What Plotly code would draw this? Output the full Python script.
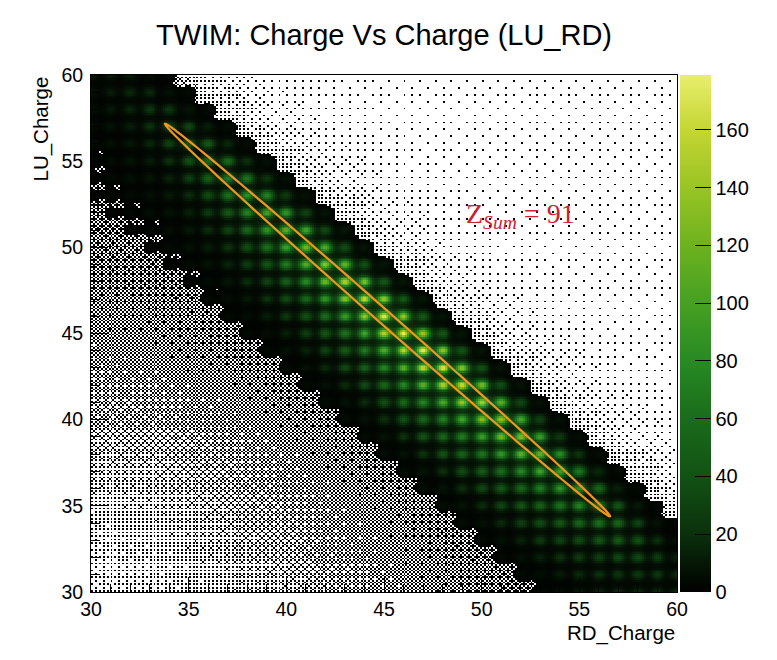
import numpy as np
import plotly.graph_objects as go

# ---------------- text ----------------
title_text = "TWIM: Charge Vs Charge (LU_RD)"
x_title = "RD_Charge"
y_title = "LU_Charge"
label_text = "Z<sub><i>Sum</i></sub> = 91"

# ---------------- axes / bins ----------------
axis_min, axis_max = 30, 60
bin_width = 0.1
major_ticks = [30, 35, 40, 45, 50, 55, 60]
colorbar_ticks = [0, 20, 40, 60, 80, 100, 120, 140, 160]
z_max = 179

# ---------------- peak counts ----------------
# RD_Charge columns 30 .. 60, one row per Z_sum = RD + LU diagonal
rd_charge = list(range(30, 61))
peaks_z94 = [0, 0, 0, 0, 2, 3, 3, 4, 4, 5, 5, 6, 6, 7, 7, 7, 7, 7, 7, 7, 6, 6, 6, 5, 5, 4, 4, 3, 3, 2, 2]
peaks_z93 = [0, 0, 0, 4, 5, 7, 10, 13, 16, 19, 22, 25, 28, 31, 34, 36, 38, 38, 37, 35, 33, 31, 28, 25, 21, 18, 14, 11, 8, 6, 4]
peaks_z92 = [0, 0, 10, 14, 20, 28, 38, 48, 58, 68, 78, 88, 98, 108, 118, 126, 130, 130, 126, 120, 112, 104, 95, 84, 72, 60, 48, 36, 26, 18, 12]
peaks_z91 = [0, 10, 14, 20, 28, 38, 50, 62, 75, 88, 100, 112, 124, 136, 148, 158, 165, 162, 155, 146, 136, 126, 115, 102, 88, 74, 60, 46, 34, 24, 16]
peaks_z90 = [8, 10, 13, 18, 25, 33, 44, 55, 66, 77, 88, 99, 109, 120, 130, 139, 145, 143, 136, 128, 120, 111, 101, 90, 77, 65, 53, 40, 30, 21, 14]
peaks_z89 = [7, 8, 10, 13, 17, 24, 31, 38, 47, 55, 62, 69, 77, 84, 92, 98, 102, 100, 96, 90, 84, 78, 71, 63, 55, 46, 37, 29, 21, 15, 0]
peaks_z88 = [6, 6, 7, 9, 12, 16, 21, 26, 32, 37, 42, 47, 52, 57, 62, 66, 69, 68, 65, 61, 57, 53, 48, 43, 37, 31, 25, 19, 14, 0, 0]
peaks_z87 = [5, 5, 6, 7, 9, 11, 15, 19, 23, 26, 30, 34, 37, 41, 44, 47, 50, 49, 47, 44, 41, 38, 35, 31, 26, 22, 18, 14, 0, 0, 0]
peaks_z86 = [4, 4, 5, 5, 6, 8, 10, 13, 16, 18, 21, 24, 26, 29, 31, 33, 35, 34, 33, 31, 29, 27, 24, 22, 18, 15, 12, 0, 0, 0, 0]
peaks_z85 = [3, 3, 3, 4, 4, 5, 6, 7, 8, 10, 11, 12, 14, 15, 16, 17, 18, 18, 17, 16, 15, 14, 12, 11, 9, 8, 0, 0, 0, 0, 0]
peaks_z84 = [2, 2, 2, 2, 3, 3, 3, 4, 4, 4, 5, 5, 5, 6, 6, 6, 6, 6, 6, 6, 5, 5, 5, 4, 4, 0, 0, 0, 0, 0, 0]
peaks_z83 = [2, 2, 2, 2, 2, 2, 3, 3, 3, 3, 3, 3, 4, 4, 4, 4, 4, 4, 4, 4, 3, 3, 3, 3, 0, 0, 0, 0, 0, 0, 0]
z_sum_rows = [94, 93, 92, 91, 90, 89, 88, 87, 86, 85, 84, 83]
peak_rows = [peaks_z94, peaks_z93, peaks_z92, peaks_z91, peaks_z90, peaks_z89,
             peaks_z88, peaks_z87, peaks_z86, peaks_z85, peaks_z84, peaks_z83]

# ---------------- single-hit bins: fraction of filled bins per area (read by eye) ----------------
occ_rd = [30, 33, 36, 39, 42, 45, 48, 51, 54, 57, 60]
occ_lu = [30, 33, 36, 39, 42, 45, 48, 51, 54, 57, 60]
occ_lu30 = [0.16, 0.18, 0.23, 0.30, 0.38, 0.45, 0.52, 0.58, 0.65, 0.72, 0.75]
occ_lu33 = [0.20, 0.23, 0.30, 0.37, 0.44, 0.50, 0.56, 0.62, 0.68, 0.70, 0.35]
occ_lu36 = [0.27, 0.30, 0.36, 0.42, 0.48, 0.54, 0.60, 0.64, 0.66, 0.35, 0.12]
occ_lu39 = [0.36, 0.38, 0.42, 0.48, 0.54, 0.60, 0.62, 0.64, 0.33, 0.12, 0.06]
occ_lu42 = [0.44, 0.46, 0.50, 0.55, 0.60, 0.62, 0.64, 0.33, 0.12, 0.06, 0.035]
occ_lu45 = [0.50, 0.52, 0.56, 0.60, 0.62, 0.64, 0.33, 0.12, 0.06, 0.035, 0.035]
occ_lu48 = [0.55, 0.58, 0.60, 0.62, 0.64, 0.33, 0.12, 0.06, 0.035, 0.035, 0.035]
occ_lu51 = [0.60, 0.62, 0.64, 0.64, 0.33, 0.12, 0.06, 0.035, 0.035, 0.035, 0.035]
occ_lu54 = [0.65, 0.68, 0.68, 0.33, 0.12, 0.06, 0.035, 0.035, 0.035, 0.035, 0.035]
occ_lu57 = [0.75, 0.75, 0.33, 0.12, 0.06, 0.035, 0.035, 0.035, 0.035, 0.035, 0.035]
occ_lu60 = [0.85, 0.60, 0.15, 0.06, 0.04, 0.035, 0.035, 0.035, 0.035, 0.035, 0.035]
occupancy = [occ_lu30, occ_lu33, occ_lu36, occ_lu39, occ_lu42, occ_lu45,
             occ_lu48, occ_lu51, occ_lu54, occ_lu57, occ_lu60]
single_hit_count = 1

# ---------------- graphical cut (Z_sum = 91 ellipse) ----------------
cut_center = (45.18, 45.78)
cut_semi_major = 16.11
cut_semi_minor = 0.37
cut_angle_deg = -45.0

# ---------------- styles ----------------
FONT = "Liberation Sans, Arial, sans-serif"
blob_sigma_x, blob_sigma_y = 0.235, 0.2
halo_sigma = 0.45
halo_frac, halo_base = 0.09, 0.8
draw_threshold = 1.0
avocado = [
    [0.000, "#000000"], [0.112, "#0b300c"], [0.223, "#125214"], [0.335, "#1a6c1b"],
    [0.447, "#288a24"], [0.559, "#46a022"], [0.670, "#6db21f"], [0.782, "#99c424"],
    [0.894, "#c4d633"], [1.000, "#e8ef6d"],
]

# ---------------- build histogram ----------------
nb = int(round((axis_max - axis_min) / bin_width))
centers = np.round(axis_min + bin_width * (np.arange(nb) + 0.5), 3)
X, Y = np.meshgrid(centers, centers)
H = np.zeros_like(X)
for zs, row in zip(z_sum_rows, peak_rows):
    for rd, amp in zip(rd_charge, row):
        if amp <= 0:
            continue
        lu = zs - rd
        dx = X - rd
        dy = Y - lu
        H += amp * np.exp(-(dx ** 2 / (2 * blob_sigma_x ** 2) + dy ** 2 / (2 * blob_sigma_y ** 2)))
        H += (halo_frac * amp + halo_base) * np.exp(-(dx ** 2 + dy ** 2) / (2 * halo_sigma ** 2))
H = np.where(H >= 1.5, H, 0.0)

# spread the read-off single-hit fractions over the bins with an ordered (Bayer) dither
def bayer(n):
    m = np.array([[0]])
    while m.shape[0] < n:
        m = np.block([[4 * m, 4 * m + 2], [4 * m + 3, 4 * m + 1]])
    return (m + 0.5) / m.size

occ_rows = np.array([np.interp(centers, occ_rd, r) for r in occupancy])
occ_fine = np.array([np.interp(centers, occ_lu, occ_rows[:, j]) for j in range(nb)]).T
mask = np.tile(bayer(16), (nb // 16 + 1, nb // 16 + 1))[:nb, :nb]
H = np.where((H == 0) & (occ_fine > mask), single_hit_count, H)

z_list = [[(round(float(v), 1) if v >= draw_threshold else None) for v in r] for r in H]

fig = go.Figure()
fig.add_trace(go.Heatmap(
    x=centers, y=centers, z=z_list, zmin=0, zmax=z_max, colorscale=avocado,
    hoverinfo="skip",
    colorbar=dict(
        x=1.005, xref="paper", xanchor="left", xpad=0, ypad=0,
        y=0.5, yanchor="middle", len=1, lenmode="fraction", thickness=31,
        outlinewidth=0, ticks="inside", ticklen=16, tickcolor="black", tickwidth=1,
        tickvals=colorbar_ticks, tickfont=dict(family=FONT, size=20, color="black"),
    ),
))

# ellipse cut
t = np.linspace(0, 2 * np.pi, 240)
ang = np.deg2rad(cut_angle_deg)
ex = cut_center[0] + cut_semi_major * np.cos(t) * np.cos(ang) - cut_semi_minor * np.sin(t) * np.sin(ang)
ey = cut_center[1] + cut_semi_major * np.cos(t) * np.sin(ang) + cut_semi_minor * np.sin(t) * np.cos(ang)
path = "M " + " L ".join(f"{a:.4f},{b:.4f}" for a, b in zip(ex, ey)) + " Z"
fig.add_shape(type="path", path=path, xref="x", yref="y",
              line=dict(color="#f0961e", width=2.2), layer="above")

axis_common = dict(
    range=[axis_min, axis_max], showgrid=False, zeroline=False,
    showline=True, mirror=True, linecolor="black", linewidth=1,
    ticks="inside", tickcolor="black", tickwidth=1, tickvals=major_ticks,
    tickfont=dict(family=FONT, size=19.5, color="black"),
)
fig.update_xaxes(**axis_common, ticklen=15,
                 minor=dict(ticks="inside", ticklen=8, dtick=1, tickcolor="black", showgrid=False))
fig.update_yaxes(**axis_common, ticklen=17, ticklabelstandoff=3,
                 minor=dict(ticks="inside", ticklen=9, dtick=1, tickcolor="black", showgrid=False))

fig.add_annotation(text=x_title, xref="paper", yref="paper", x=1.0, y=-0.079,
                   xanchor="right", yanchor="middle", showarrow=False,
                   font=dict(family=FONT, size=20.5, color="black"))
fig.add_annotation(text=y_title, xref="paper", yref="paper", x=-0.087, y=1.0,
                   xanchor="center", yanchor="top", textangle=-90, showarrow=False,
                   font=dict(family=FONT, size=20.5, color="black"))
fig.add_annotation(text=label_text, xref="x", yref="y", x=49.1, y=51.85,
                   xanchor="left", yanchor="middle", showarrow=False,
                   font=dict(family="Liberation Serif, Times New Roman, serif", size=28, color="#d0222e"))

fig.update_layout(
    width=777, height=660,
    margin=dict(l=83, r=108, t=67, b=76, autoexpand=False),
    paper_bgcolor="white", plot_bgcolor="white",
    title=dict(text=title_text, x=0.5, xref="paper", xanchor="center",
               y=1 - 27 / 660, yref="container", yanchor="middle",
               font=dict(family=FONT, size=29, color="black")),
    showlegend=False,
)
fig.write_html("out.html")
